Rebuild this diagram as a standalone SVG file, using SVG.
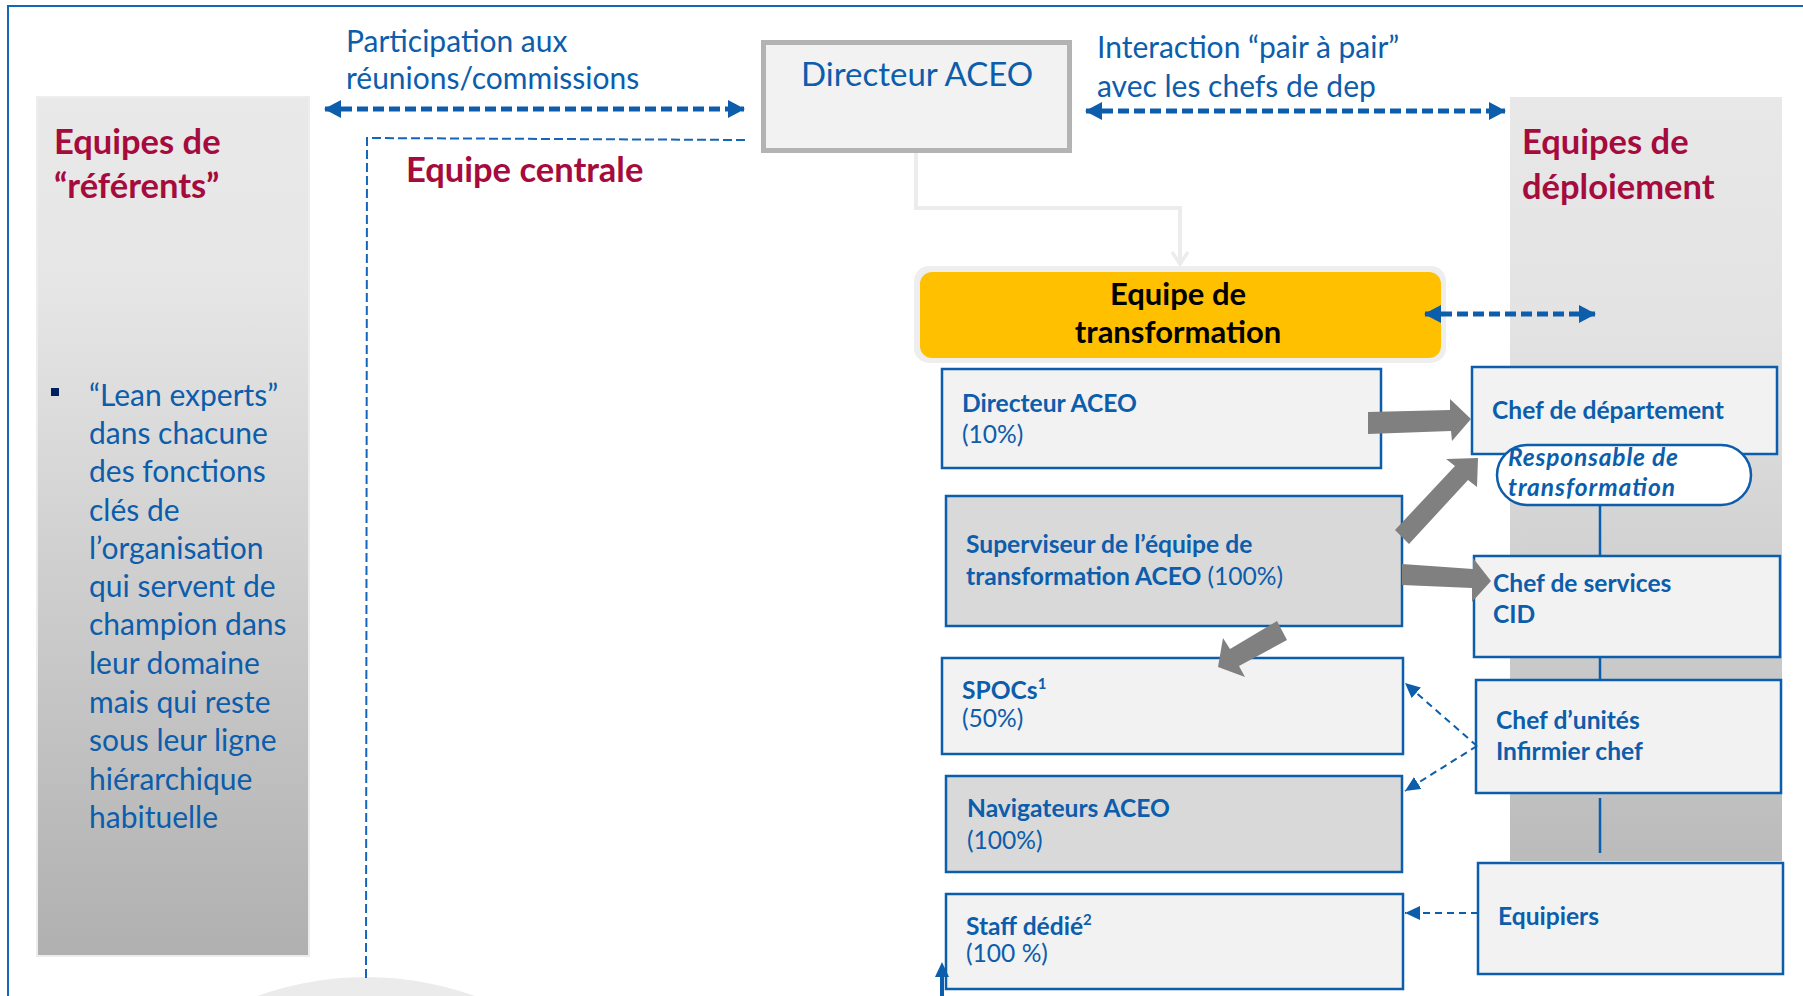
<svg xmlns="http://www.w3.org/2000/svg" width="1803" height="996" viewBox="0 0 1803 996">
<style>
text{font-family:Lato,"Liberation Sans",sans-serif}
.lbl{fill:#0c5dab;font-size:30px}
.hd{fill:#a50b3c;font-size:34.5px;font-weight:bold}
.nb{fill:#0c5dab;font-size:24.6px;font-weight:bold}
.nr{fill:#0c5dab;font-size:24.6px}
.bul{fill:#0c5dab;font-size:30px}
.box{fill:#f2f2f2;stroke:#0c5dab;stroke-width:2.5}
.boxd{fill:#d9d9d9;stroke:#0c5dab;stroke-width:2.5}
.thick{fill:none;stroke:#0c5dab;stroke-width:5;stroke-dasharray:11 5}
.thin{fill:none;stroke:#0c5dab;stroke-width:2;stroke-dasharray:7 5}
.vl{stroke:#0c5dab;stroke-width:2.5}
.garrow{fill:#808080}
.pill{fill:#0c5dab;font-size:24.5px;font-weight:bold;font-style:italic}
</style>
<defs>
<linearGradient id="gl" x1="0" y1="0" x2="0" y2="1">
<stop offset="0" stop-color="#e9e9e9"/>
<stop offset="0.22" stop-color="#e6e6e6"/>
<stop offset="1" stop-color="#b0b0b0"/>
</linearGradient>
<linearGradient id="gr" x1="0" y1="0" x2="0" y2="1">
<stop offset="0" stop-color="#e8e8e8"/>
<stop offset="0.3" stop-color="#e3e3e3"/>
<stop offset="0.75" stop-color="#c9c9c9"/>
<stop offset="1" stop-color="#bbbbbb"/>
</linearGradient>
<marker id="ah" markerUnits="userSpaceOnUse" markerWidth="18" markerHeight="20" refX="16" refY="10" orient="auto-start-reverse" viewBox="0 0 18 20">
<path d="M0,1 L17,10 L0,19 Z" fill="#0c5dab"/>
</marker>
<marker id="as" markerUnits="userSpaceOnUse" markerWidth="16" markerHeight="14" refX="15" refY="7" orient="auto" viewBox="0 0 16 14">
<path d="M0,0 L15,7 L0,14 Z" fill="#0c5dab"/>
</marker>
<marker id="ag" markerUnits="userSpaceOnUse" markerWidth="20" markerHeight="20" refX="14" refY="10" orient="auto" viewBox="0 0 20 20">
<path d="M2,2 L14,10 L2,18" fill="none" stroke="#ececec" stroke-width="3.5"/>
</marker>
</defs>
<rect width="1803" height="996" fill="#ffffff"/>
<rect x="8" y="6" width="1810" height="1010" fill="none" stroke="#1565b8" stroke-width="2"/>
<circle cx="366" cy="1297" r="320" fill="#ebebeb"/>

<g id="panel-referents">
<rect x="37" y="97" width="272" height="859" fill="url(#gl)" stroke="#ededed" stroke-width="2"/>
<text class="hd" x="54" y="154">Equipes de</text>
<text class="hd" x="54" y="198">“référents”</text>
<rect x="51" y="388" width="8" height="8" fill="#002060"/>
<text class="bul" x="89" y="406">“Lean experts”</text>
<text class="bul" x="89" y="444">dans chacune</text>
<text class="bul" x="89" y="482">des fonctions</text>
<text class="bul" x="89" y="521">clés de</text>
<text class="bul" x="89" y="559">l’organisation</text>
<text class="bul" x="89" y="597">qui servent de</text>
<text class="bul" x="89" y="635">champion dans</text>
<text class="bul" x="89" y="674">leur domaine</text>
<text class="bul" x="89" y="713">mais qui reste</text>
<text class="bul" x="89" y="751">sous leur ligne</text>
<text class="bul" x="89" y="790">hiérarchique</text>
<text class="bul" x="89" y="828">habituelle</text>
</g>

<g id="panel-deploiement">
<rect x="1510" y="97" width="272" height="764" fill="url(#gr)"/>
<text class="hd" x="1522" y="154">Equipes de</text>
<text class="hd" x="1522" y="199">déploiement</text>
</g>

<g id="equipe-centrale">
<path d="M745,140 L367,138 L366,982" fill="none" stroke="#1565b8" stroke-width="2" stroke-dasharray="9 4"/>
<text class="hd" x="406" y="182">Equipe centrale</text>
</g>

<g id="labels">
<text class="lbl" x="346" y="52">Participation aux</text>
<text class="lbl" x="346" y="89">réunions/commissions</text>
<text class="lbl" x="1097" y="58">Interaction “pair à pair”</text>
<text class="lbl" x="1097" y="97">avec les chefs de dep</text>
</g>

<g id="directeur-top">
<rect x="763.5" y="42.5" width="306" height="108" fill="#f2f2f2" stroke="#b3b3b3" stroke-width="5"/>
<text class="lbl" x="801" y="86" style="font-size:33px">Directeur ACEO</text>
</g>

<g id="equipe-transformation">
<rect x="914" y="266" width="532" height="97" rx="15" fill="#eeeeee"/>
<rect x="920" y="272" width="521" height="86" rx="12" fill="#ffc000"/>
<text x="1178" y="305" text-anchor="middle" style="font-size:31px;font-weight:bold;fill:#000">Equipe de</text>
<text x="1178" y="343" text-anchor="middle" style="font-size:31px;font-weight:bold;fill:#000">transformation</text>
</g>

<g id="directeur-10">
<rect class="box" x="942" y="369" width="439" height="99"/>
<text class="nb" x="962" y="412">Directeur ACEO</text>
<text class="nr" x="962" y="443">(10%)</text>
</g>

<g id="superviseur">
<rect class="boxd" x="946" y="496" width="456" height="130"/>
<text class="nb" x="966" y="553">Superviseur de l’équipe de</text>
<text class="nb" x="966" y="585">transformation ACEO <tspan class="nr" style="font-weight:normal">(100%)</tspan></text>
</g>

<g id="spocs">
<rect class="box" x="942" y="658" width="461" height="96"/>
<text class="nb" x="962" y="699">SPOCs<tspan style="font-size:15px" dy="-10">1</tspan></text>
<text class="nr" x="962" y="727">(50%)</text>
</g>

<g id="navigateurs">
<rect class="boxd" x="946" y="776" width="456" height="96"/>
<text class="nb" x="967" y="817">Navigateurs ACEO</text>
<text class="nr" x="967" y="849">(100%)</text>
</g>

<g id="staff">
<rect class="box" x="946" y="894" width="457" height="95"/>
<text class="nb" x="966" y="935">Staff dédié<tspan style="font-size:15px" dy="-10">2</tspan></text>
<text class="nr" x="966" y="962">(100 %)</text>
</g>

<g id="chef-departement">
<rect class="box" x="1472" y="367" width="305" height="87"/>
<text class="nb" x="1492" y="419">Chef de département</text>
</g>

<g id="responsable">
<rect x="1497" y="445" width="254" height="60" rx="30" fill="#ffffff" stroke="#0c5dab" stroke-width="2.5"/>
<text class="pill" x="1508" y="466" textLength="170">Responsable de</text>
<text class="pill" x="1508" y="496" textLength="167">transformation</text>
</g>

<g id="chef-services">
<rect class="box" x="1474" y="556" width="306" height="101"/>
<text class="nb" x="1493" y="592">Chef de services</text>
<text class="nb" x="1493" y="623">CID</text>
</g>

<g id="chef-unites">
<rect class="box" x="1476" y="680" width="305" height="113"/>
<text class="nb" x="1496" y="729">Chef d’unités</text>
<text class="nb" x="1496" y="760">Infirmier chef</text>
</g>

<g id="equipiers">
<rect class="box" x="1478" y="863" width="305" height="111"/>
<text class="nb" x="1498" y="925">Equipiers</text>
</g>

<g id="connectors">
<polyline points="916,153 916,208 1180,208 1180,264" fill="none" stroke="#ececec" stroke-width="4" marker-end="url(#ag)"/>
<line class="thick" x1="325" y1="109" x2="744" y2="109" marker-start="url(#ah)" marker-end="url(#ah)"/>
<line class="thick" x1="1086" y1="111" x2="1505" y2="111" marker-start="url(#ah)" marker-end="url(#ah)"/>
<line class="thick" x1="1425" y1="314" x2="1595" y2="314" marker-start="url(#ah)" marker-end="url(#ah)"/>
<polygon class="garrow" points="1368,412 1450,410 1450,399 1471,419 1452,441 1451,431 1368,434"/>
<polygon class="garrow" points="1395,530 1455,466 1446,459 1478,458 1477,487 1468,480 1409,544"/>
<polygon class="garrow" points="1402,564 1473,569 1473,558 1491,581 1472,602 1472,588 1402,585"/>
<polygon class="garrow" points="1277,621 1230,649 1223,638 1218,667 1245,677 1239,666 1287,640"/>
<line class="vl" x1="1600" y1="506" x2="1600" y2="556"/>
<line class="vl" x1="1600" y1="657" x2="1600" y2="680"/>
<line class="vl" x1="1600" y1="798" x2="1600" y2="853"/>
<line class="thin" x1="1477" y1="746" x2="1405" y2="683" marker-end="url(#as)"/>
<line class="thin" x1="1477" y1="746" x2="1405" y2="791" marker-end="url(#as)"/>
<line class="thin" x1="1478" y1="913" x2="1405" y2="913" marker-end="url(#as)"/>
<line x1="942" y1="996" x2="942" y2="974" stroke="#0c5dab" stroke-width="4"/>
<path d="M935,977 L942,962 L949,977 Z" fill="#0c5dab"/>
</g>
</svg>
